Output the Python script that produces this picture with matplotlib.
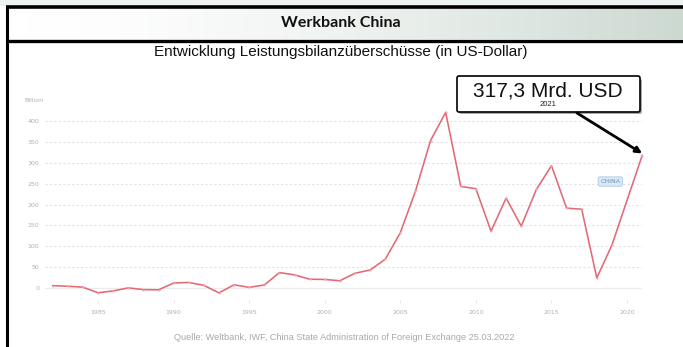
import matplotlib
matplotlib.use("Agg")
import matplotlib.pyplot as plt
import numpy as np
from matplotlib.patches import Rectangle, FancyBboxPatch

# Leistungsbilanzsaldo China, Mrd. USD (Weltbank)
years = [1982, 1983, 1984, 1985, 1986, 1987, 1988, 1989, 1990, 1991,
         1992, 1993, 1994, 1995, 1996, 1997, 1998, 1999, 2000, 2001,
         2002, 2003, 2004, 2005, 2006, 2007, 2008, 2009, 2010, 2011,
         2012, 2013, 2014, 2015, 2016, 2017, 2018, 2019, 2021]
surplus = [5.7, 4.2, 2.0, -11.4, -7.0, 0.3, -3.8, -4.3, 12.0, 13.3,
           6.4, -11.6, 7.7, 1.6, 7.2, 37.0, 31.5, 21.1, 20.5, 17.4,
           35.4, 43.1, 68.9, 132.4, 231.8, 353.2, 420.6, 243.3, 237.8, 136.1,
           215.4, 148.2, 236.0, 293.0, 191.3, 188.7, 24.1, 102.9, 317.3]
y_ticks = [0, 50, 100, 150, 200, 250, 300, 350, 400]
x_ticks = [1985, 1990, 1995, 2000, 2005, 2010, 2015, 2020]

W, H = 683, 347
fig = plt.figure(figsize=(W / 100, H / 100), dpi=100)
fig.patch.set_facecolor("white")

def px(x0, y0, x1, y1):
    # pixel box -> figure fraction rect
    return [x0 / W, 1 - y1 / H, (x1 - x0) / W, (y1 - y0) / H]

# background / frame layer in pixel coordinates
bg = fig.add_axes([0, 0, 1, 1], zorder=0)
bg.add_patch(Rectangle((0, 0), W, 5.5, color="#eef2f1", lw=0))
grad = np.linspace(0, 1, 256) ** 1.6
grad = np.vstack([grad, grad])
bg.imshow(grad, extent=(7, W, 39, 8), aspect="auto",
          cmap=matplotlib.colors.LinearSegmentedColormap.from_list("hdr", ["#ffffff", "#ccd9d1"]))
bg.set_xlim(0, W)
bg.set_ylim(H, 0)
bg.axis("off")
bg.plot([5.5, W], [7, 7], color="black", lw=2.6, solid_capstyle="butt")
bg.plot([5.5, W], [40.5, 40.5], color="black", lw=2.4, solid_capstyle="butt")
bg.plot([6.5, 6.5], [5.5, H], color="black", lw=2.2, solid_capstyle="butt")

bg.text(341, 23, "Werkbank China", ha="center", va="center",
        fontsize=11.5, fontweight="bold", family="Lato", color="#111111")
bg.text(341, 52, "Entwicklung Leistungsbilanzüberschüsse (in US-Dollar)",
        ha="center", va="center", fontsize=11, family="Liberation Sans", color="#111111")
bg.text(344, 337, "Quelle: Weltbank, IWF, China State Administration of Foreign Exchange 25.03.2022",
        ha="center", va="center", fontsize=6.6, family="Liberation Sans", color="#a8a8a8")
bg.text(34, 100, "Billion", ha="center", va="center", fontsize=4.5, color="#b0b0b0")

# main chart
ax = fig.add_axes(px(45, 100, 642, 300), zorder=2)
ax.patch.set_alpha(0)
ax.set_xlim(1981.49, 2020.99)
ax.set_ylim(-28.7, 450.3)
for s in ax.spines.values():
    s.set_visible(False)
for v in y_ticks[1:]:
    ax.axhline(v, color="#e2e2e2", lw=0.8, ls=(0, (2, 2)), zorder=0)
ax.axhline(0, color="#ececec", lw=0.9, zorder=0)

ax.plot(years, surplus, color="#e26a74", lw=1.15, clip_on=False, zorder=3,
        marker="o", markersize=1.6, markerfacecolor="#f0a8ae", markeredgewidth=0)

ax.set_yticks(y_ticks)
ax.set_xticks(x_ticks)
ax.tick_params(axis="y", length=0, pad=4, labelsize=4.5, labelcolor="#b0b0b0")
ax.tick_params(axis="x", length=2, width=0.5, color="#dddddd", pad=5,
               labelsize=4.5, labelcolor="#b0b0b0")

ax.text(2018.9, 255, "CHINA", ha="center", va="center", fontsize=4.5, color="#6a8fb5",
        bbox=dict(boxstyle="round,pad=0.35", fc="#dbe9f6", ec="#a9c8e6", lw=0.6))

# annotation overlay
ov = fig.add_axes([0, 0, 1, 1], zorder=5)
ov.set_xlim(0, W)
ov.set_ylim(H, 0)
ov.axis("off")
ov.add_patch(FancyBboxPatch((459, 79), 183, 35, boxstyle="round,pad=0,rounding_size=2",
                            fc="#555555", ec="none", alpha=0.5))
ov.add_patch(FancyBboxPatch((457, 76), 183, 36, boxstyle="round,pad=0,rounding_size=2",
                            fc="white", ec="black", lw=1.2))
ov.text(548, 91, "317,3 Mrd. USD", ha="center", va="center", fontsize=15,
        family="Liberation Sans", color="#111111")
ov.text(548, 104, "2021", ha="center", va="center", fontsize=5.5,
        family="Liberation Sans", color="#222222")
ov.annotate("", xy=(years[-1], surplus[-1] + 5), xycoords=ax.transData,
            xytext=(577, 113), textcoords="data",
            arrowprops=dict(arrowstyle="-|>", color="black", lw=2, mutation_scale=9,
                            shrinkA=0, shrinkB=0))

fig.savefig("out.png", dpi=100)
